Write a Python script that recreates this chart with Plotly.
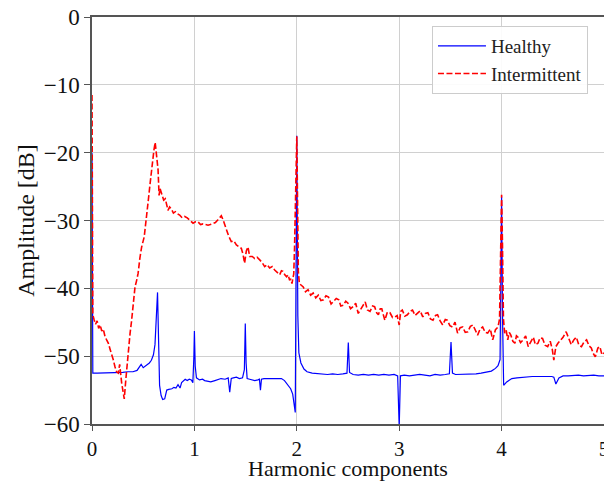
import plotly.graph_objects as go

# Harmonic axis (multiples of the fundamental) and amplitude in dB
healthy_x = [
    0.0, 0.008, 0.05, 0.1, 0.15, 0.2, 0.25, 0.3, 0.35, 0.4, 0.44, 0.46, 0.48,
    0.5, 0.52, 0.54, 0.56, 0.58, 0.6, 0.615, 0.628, 0.64, 0.65, 0.66, 0.675,
    0.69, 0.71, 0.73, 0.75, 0.78, 0.8, 0.82, 0.84, 0.86, 0.875, 0.89, 0.91,
    0.93, 0.95, 0.97, 0.985, 0.995, 1.0, 1.008, 1.02, 1.05, 1.08, 1.1, 1.13,
    1.16, 1.2, 1.23, 1.26, 1.3, 1.33, 1.345, 1.36, 1.38, 1.41, 1.44, 1.47,
    1.488, 1.497, 1.505, 1.515, 1.54, 1.56, 1.59, 1.62, 1.635, 1.645, 1.655,
    1.68, 1.71, 1.75, 1.8, 1.85, 1.88, 1.91, 1.94, 1.96, 1.975, 1.985, 2.0,
    2.01, 2.02, 2.04, 2.07, 2.1, 2.15, 2.2, 2.25, 2.3, 2.35, 2.4, 2.45, 2.49,
    2.503, 2.515, 2.55, 2.6, 2.65, 2.7, 2.75, 2.8, 2.85, 2.9, 2.95, 2.985,
    3.0, 3.012, 3.05, 3.1, 3.15, 3.2, 3.25, 3.3, 3.35, 3.4, 3.45, 3.49,
    3.506, 3.52, 3.55, 3.6, 3.65, 3.7, 3.75, 3.8, 3.85, 3.9, 3.94, 3.965,
    3.985, 4.0, 4.01, 4.02, 4.05, 4.1, 4.15, 4.2, 4.25, 4.3, 4.35, 4.4, 4.45,
    4.49, 4.51, 4.53, 4.56, 4.6, 4.65, 4.7, 4.75, 4.8, 4.85, 4.9, 4.95, 5.0,
]
healthy_y = [
    -20.0, -52.5, -52.5, -52.5, -52.5, -52.5, -52.5, -52.4, -52.3, -52.3,
    -52.1, -51.6, -51.2, -51.7, -51.5, -51.3, -51.0, -50.6, -49.8, -48.3,
    -45.0, -40.6, -47.5, -54.3, -55.8, -56.4, -56.3, -55.0, -54.9, -54.8,
    -54.6, -54.7, -54.2, -54.7, -53.9, -53.7, -53.4, -53.6, -53.4, -53.5,
    -53.9, -50.0, -46.3, -51.5, -53.2, -53.5, -53.4, -53.6, -53.7, -53.8,
    -53.6, -53.4, -53.3, -53.4, -53.2, -55.3, -53.3, -53.2, -53.1, -53.3,
    -53.2, -52.0, -45.2, -51.0, -53.3, -53.4, -53.5, -53.6, -53.5, -53.4,
    -55.0, -53.4, -53.3, -53.3, -53.4, -53.3, -53.3, -53.6, -54.3, -54.8,
    -55.6, -57.0, -58.3, -17.5, -44.0, -49.5, -51.0, -51.9, -52.3, -52.5,
    -52.6, -52.6, -52.7, -52.6, -52.7, -52.6, -52.5, -48.0, -52.4, -52.7,
    -52.8, -52.7, -52.8, -52.7, -52.8, -52.7, -52.8, -52.7, -52.9, -60.5,
    -52.9, -52.8, -52.9, -52.8, -52.7, -52.8, -52.9, -52.7, -52.8, -52.7,
    -52.6, -47.9, -52.5, -52.7, -52.7, -52.7, -52.6, -52.6, -52.5, -52.4,
    -52.2, -51.8, -51.4, -50.5, -26.5, -45.0, -54.3, -53.8, -53.3, -53.2,
    -53.1, -53.1, -53.0, -53.0, -53.0, -52.9, -53.0, -53.1, -54.1, -53.2,
    -52.9, -52.9, -52.8, -52.8, -52.9, -52.8, -52.8, -52.9, -52.9, -52.9,
    -52.9,
]

intermittent_x = [
    0.0, 0.008, 0.02, 0.035, 0.05, 0.065, 0.08, 0.095, 0.11, 0.127, 0.143,
    0.16, 0.175, 0.19, 0.207, 0.225, 0.24, 0.257, 0.27, 0.29, 0.303, 0.315,
    0.33, 0.345, 0.36, 0.372, 0.385, 0.4, 0.42, 0.435, 0.45, 0.468, 0.485,
    0.51, 0.53, 0.55, 0.567, 0.583, 0.605, 0.617, 0.63, 0.645, 0.655, 0.665,
    0.675, 0.688, 0.7, 0.716, 0.73, 0.742, 0.758, 0.775, 0.795, 0.814, 0.835,
    0.856, 0.88, 0.905, 0.93, 0.954, 0.97, 0.987, 1.01, 1.035, 1.06, 1.084,
    1.11, 1.133, 1.155, 1.18, 1.205, 1.23, 1.25, 1.263, 1.28, 1.295, 1.31,
    1.335, 1.36, 1.385, 1.41, 1.435, 1.458, 1.475, 1.49, 1.507, 1.523, 1.54,
    1.565, 1.589, 1.612, 1.638, 1.662, 1.686, 1.71, 1.735, 1.76, 1.784, 1.81,
    1.833, 1.85, 1.865, 1.883, 1.9, 1.915, 1.93, 1.942, 1.953, 1.962, 1.97,
    1.978, 1.985, 1.993, 2.0, 2.008, 2.015, 2.025, 2.045, 2.063, 2.085, 2.11,
    2.135, 2.16, 2.185, 2.21, 2.235, 2.26, 2.285, 2.31, 2.335, 2.357, 2.385,
    2.41, 2.43, 2.454, 2.478, 2.5, 2.525, 2.55, 2.575, 2.6, 2.625, 2.65,
    2.668, 2.69, 2.715, 2.74, 2.76, 2.78, 2.797, 2.815, 2.83, 2.845, 2.86,
    2.885, 2.91, 2.935, 2.96, 2.98, 3.0, 3.015, 3.03, 3.055, 3.08, 3.105,
    3.13, 3.155, 3.18, 3.205, 3.23, 3.255, 3.28, 3.305, 3.33, 3.355, 3.375,
    3.4, 3.425, 3.45, 3.47, 3.495, 3.52, 3.545, 3.57, 3.595, 3.62, 3.645,
    3.67, 3.695, 3.72, 3.745, 3.766, 3.79, 3.815, 3.84, 3.864, 3.89, 3.913,
    3.94, 3.965, 3.98, 3.99, 4.0, 4.008, 4.018, 4.03, 4.045, 4.06, 4.075,
    4.09, 4.11, 4.13, 4.145, 4.16, 4.185, 4.21, 4.235, 4.26, 4.285, 4.31,
    4.33, 4.355, 4.375, 4.4, 4.425, 4.45, 4.475, 4.495, 4.51, 4.53, 4.55,
    4.575, 4.6, 4.63, 4.655, 4.68, 4.705, 4.73, 4.755, 4.78, 4.805, 4.83,
    4.855, 4.876, 4.895, 4.915, 4.94, 4.96, 4.98, 5.0,
]
intermittent_y = [
    -11.5, -43.9, -44.6, -45.3, -44.8, -45.9, -45.4, -46.3, -46.0, -47.1,
    -47.6, -48.1, -48.9, -49.6, -50.5, -51.6, -52.3, -52.5, -51.2, -54.0,
    -55.5, -56.3, -53.5, -50.8, -48.6, -46.6, -45.0, -42.2, -39.8, -38.9,
    -37.8, -35.5, -33.9, -32.4, -30.0, -27.0, -24.6, -22.1, -19.6, -18.5,
    -20.2, -22.5, -26.3, -25.3, -25.8, -26.6, -27.0, -26.8, -27.9, -28.5,
    -28.0, -28.3, -28.9, -28.7, -29.0, -29.2, -29.6, -29.4, -29.6, -29.9,
    -30.1, -30.4, -30.2, -30.2, -30.6, -30.5, -30.6, -30.7, -30.6, -30.5,
    -30.3, -29.9, -29.5, -29.3, -29.9, -30.6, -31.4, -32.3, -33.1, -33.0,
    -33.6, -33.9, -34.1, -35.0, -36.3, -34.5, -33.9, -35.3, -35.3, -35.6,
    -35.4, -35.8, -36.2, -36.8, -36.5, -37.0, -36.8, -37.3, -37.6, -38.0,
    -37.4, -37.5, -38.0, -38.3, -38.0, -38.8, -38.6, -39.3, -38.5, -37.9,
    -34.0, -30.0, -22.0, -17.6, -28.0, -37.5, -39.3, -39.6, -39.8, -40.5,
    -40.2, -41.0, -40.7, -41.4, -41.0, -41.8, -41.7, -41.1, -41.3, -42.3,
    -42.0, -41.5, -41.7, -42.6, -42.5, -41.9, -42.2, -43.0, -42.7, -42.2,
    -43.7, -43.0, -42.5, -42.0, -43.2, -43.4, -42.6, -42.7, -43.6, -43.9,
    -43.0, -43.0, -43.9, -44.7, -43.5, -43.6, -44.3, -44.2, -44.0, -45.4,
    -43.4, -43.2, -44.1, -43.9, -43.4, -43.2, -44.0, -43.6, -43.3, -44.2,
    -43.7, -43.6, -44.5, -44.7, -44.0, -43.9, -44.8, -45.4, -44.6, -44.7,
    -45.5, -45.7, -45.0, -46.6, -45.8, -45.7, -46.5, -46.4, -45.6, -45.4,
    -46.3, -46.9, -46.0, -45.7, -46.5, -46.6, -46.0, -47.6, -46.1, -45.7,
    -44.5, -36.0, -26.2, -33.0, -44.5, -46.6, -46.2, -47.6, -46.5, -46.9,
    -47.8, -48.1, -47.0, -47.2, -48.0, -47.6, -47.0, -48.6, -48.0, -47.2,
    -48.3, -48.1, -47.3, -47.4, -48.4, -48.6, -47.8, -49.0, -50.6, -48.6,
    -48.1, -47.6, -47.2, -46.4, -47.5, -48.3, -47.6, -47.2, -48.4, -48.6,
    -47.9, -47.6, -48.5, -48.8, -49.6, -50.1, -48.8, -48.6, -49.8, -49.5,
]

x_ticks = [0, 1, 2, 3, 4, 5]
y_ticks = [0, -10, -20, -30, -40, -50, -60]

FONT = "Liberation Serif, DejaVu Serif, serif"

fig = go.Figure()
fig.add_trace(go.Scatter(
    x=healthy_x, y=healthy_y, mode="lines", name="Healthy",
    line=dict(color="#0000ff", width=1.2),
))
fig.add_trace(go.Scatter(
    x=intermittent_x, y=intermittent_y, mode="lines", name="Intermittent",
    line=dict(color="#ff0000", width=1.6, dash="6px,2.5px"),
))

fig.update_layout(
    width=604, height=481,
    margin=dict(l=92, r=0, t=17, b=57),
    paper_bgcolor="white", plot_bgcolor="white",
    font=dict(family=FONT, size=23, color="#111"),
    showlegend=True,
    legend=dict(
        x=0.664, y=0.978, xanchor="left", yanchor="top",
        bgcolor="rgba(255,255,255,0.9)", bordercolor="#cccccc", borderwidth=1,
        font=dict(family=FONT, size=19, color="#222"),
        itemwidth=48,
    ),
    xaxis=dict(
        range=[0, 5], tickvals=x_ticks, ticks="outside", ticklen=5,
        tickfont=dict(family=FONT, size=21),
        tickcolor="#555", showline=True, linecolor="#555", linewidth=1.5,
        mirror=True, showgrid=True, gridcolor="#d0d0d0", gridwidth=1.3,
        zeroline=False, ticklabeloverflow="allow", automargin=False,
        title=dict(text="Harmonic components", standoff=11,
                   font=dict(family=FONT, size=22)),
    ),
    yaxis=dict(
        range=[-60, 0], tickvals=y_ticks, ticks="outside", ticklen=6,
        tickcolor="#555", showline=True, linecolor="#555", linewidth=1.5,
        mirror=False, showgrid=True, gridcolor="#d0d0d0", gridwidth=1.3,
        zeroline=False, automargin=False,
        title=dict(text="Amplitude [dB]", standoff=2,
                   font=dict(family=FONT, size=24)),
    ),
)

fig.write_html("out.html")
